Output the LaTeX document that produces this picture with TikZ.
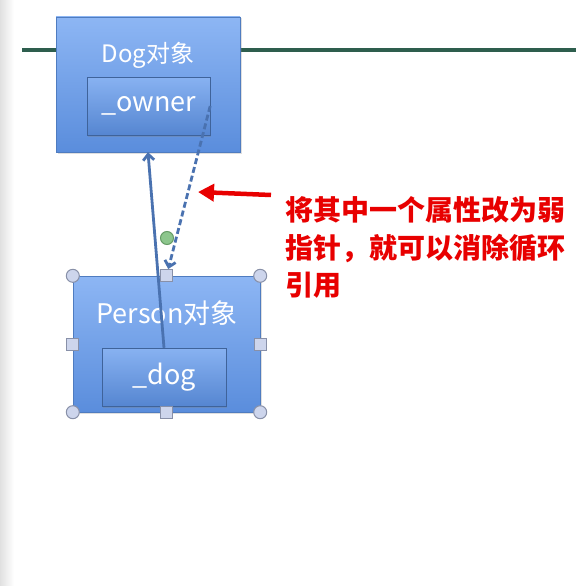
\documentclass[tikz,border=0pt]{standalone}
\usepackage{fontspec}
\setmainfont{Noto Sans CJK SC}
\usetikzlibrary{arrows.meta,shadows}

\definecolor{boxtop}{HTML}{8DB6F4}
\definecolor{boxbot}{HTML}{5A8DDC}
\definecolor{boxline}{HTML}{4F7CC0}
\definecolor{arrowblue}{HTML}{4A72B0}
\definecolor{linegreen}{HTML}{2E5E4E}
\definecolor{notered}{HTML}{E80000}
\definecolor{handlefill}{HTML}{CDD5EC}
\definecolor{handleline}{HTML}{8890A8}

\tikzset{
    objbox/.style={rectangle, draw=boxline, top color=boxtop, bottom color=boxbot,
        drop shadow={opacity=0.25, shadow xshift=1.5pt, shadow yshift=-1.5pt}},
    fieldbox/.style={rectangle, draw=boxline!80!black, top color=boxtop!90!boxbot,
        bottom color=boxbot!95!black, text=white, font=\fontsize{27}{30}\selectfont,
        minimum width=123pt, minimum height=58pt, inner sep=0pt,
        drop shadow={opacity=0.3, shadow xshift=1pt, shadow yshift=-1.5pt}},
    title/.style={text=white, inner sep=0pt},
    ref/.style={draw=arrowblue, line width=2.8pt, -{Straight Barb[length=6pt,width=11pt]}},
    handle/.style={circle, draw=handleline, line width=1pt, fill=handlefill, minimum size=13pt, inner sep=0pt},
    sqhandle/.style={rectangle, draw=handleline, line width=1pt, fill=handlefill, minimum size=12pt, inner sep=0pt},
    note/.style={text=notered, font=\fontsize{28}{28}\selectfont\bfseries, anchor=west, inner sep=0pt}
}

\begin{document}
\begin{tikzpicture}[x=1pt,y=-1pt]
    \useasboundingbox (0,0) rectangle (576,586);
    \fill[white] (0,0) rectangle (576,586);
    \fill[left color=black!12, right color=white] (0,0) rectangle (14,586);
    \draw[linegreen, line width=3.5pt] (22,50) -- (576,50);

    \node[objbox, minimum width=184pt, minimum height=135pt] (dog) at (148,84.5) {};
    \node[title, font=\fontsize{24}{26}\selectfont] (dogtitle) at (148,55) {Dog对象};
    \node[fieldbox] (owner) at (148.5,106) {\_owner};

    \node[objbox, minimum width=187pt, minimum height=136pt] (person) at (166.5,344) {};
    \node[title, font=\fontsize{27}{28}\selectfont] (persontitle) at (167,313) {Person对象};
    \node[fieldbox, minimum width=124pt] (dogref) at (164,377) {\_dog};

    \draw[ref] (dogref.north) -- (dog.south);
    \draw[ref, dashed, dash pattern=on 6pt off 3pt, shorten >=7pt] (owner.east) -- (person.north);

    \foreach \a in {north west, north east, south west, south east}
        \node[handle] at (person.\a) {};
    \foreach \a in {north, south, east, west}
        \node[sqhandle] at (person.\a) {};
    \node[handle, fill=green!50!black!45, draw=green!35!black!60] (bend) at (167,238) {};

    \node[note] (line1) at (285,210) {将其中一个属性改为弱};
    \node[note] (line2) at (285,248) {指针，就可以消除循环};
    \node[note] (line3) at (285,285) {引用};
    \coordinate (tail) at (271,195);
    \coordinate (tip) at (198,192);
    \draw[notered, line width=4.5pt, -{Triangle[length=16pt,width=17pt]}] (tail) -- (tip);
\end{tikzpicture}
\end{document}
